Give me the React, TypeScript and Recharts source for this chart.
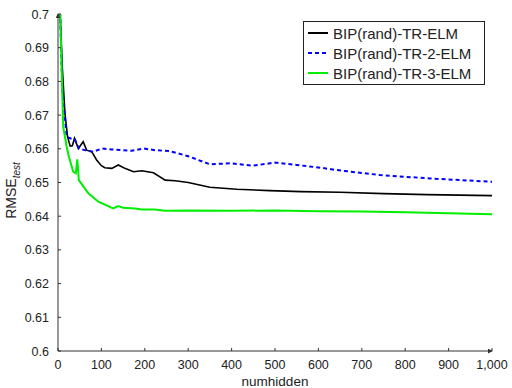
import React from 'react';
import { LineChart, Line, XAxis, YAxis } from 'recharts';

const blackX = [1, 5, 10, 16, 22, 28, 33, 38, 47, 58, 66, 78, 89, 100, 108, 124, 139, 154, 174, 193, 220, 247, 270, 300, 350, 412, 488, 560, 650, 750, 850, 1000];
const blackY = [0.74, 0.7, 0.684, 0.6705, 0.6636, 0.6608, 0.6609, 0.6631, 0.6601, 0.6621, 0.6596, 0.6591, 0.6567, 0.655, 0.6544, 0.6542, 0.6552, 0.6542, 0.6532, 0.6535, 0.6529, 0.6507, 0.6505, 0.65, 0.6486, 0.648, 0.6476, 0.6473, 0.6471, 0.6467, 0.6464, 0.6461];

const blueX = [1, 5, 10, 20, 28, 39, 48, 62, 81, 101, 124, 147, 170, 197, 223, 258, 300, 350, 396, 450, 500, 550, 604, 642, 742, 857, 1000];
const blueY = [0.74, 0.7, 0.6774, 0.6636, 0.6631, 0.6628, 0.6601, 0.6596, 0.6591, 0.6601, 0.6598, 0.6596, 0.6594, 0.6601, 0.6596, 0.6593, 0.6578, 0.6554, 0.6557, 0.655, 0.6559, 0.6552, 0.6544, 0.6537, 0.6522, 0.6512, 0.6502];

const greenX = [1, 5, 12, 20, 25, 35, 41, 44.5, 48, 70, 93, 127, 139, 150, 177, 193, 223, 247, 300, 400, 500, 600, 700, 800, 900, 1000];
const greenY = [0.74, 0.7, 0.6666, 0.6606, 0.6577, 0.6532, 0.6527, 0.6569, 0.6507, 0.6468, 0.6443, 0.6423, 0.643, 0.6425, 0.6423, 0.642, 0.642, 0.6416, 0.6417, 0.6416, 0.6417, 0.6415, 0.6414, 0.6412, 0.6409, 0.6406];

const xTicks = [0, 100, 200, 300, 400, 500, 600, 700, 800, 900, 1000];
const yTicks = [0.6, 0.61, 0.62, 0.63, 0.64, 0.65, 0.66, 0.67, 0.68, 0.69, 0.7];

const seriesNames = ['BIP(rand)-TR-ELM', 'BIP(rand)-TR-2-ELM', 'BIP(rand)-TR-3-ELM'];

const toData = (xs: number[], ys: number[]) => xs.map((x, i) => ({ x, y: ys[i] }));
const blackData = toData(blackX, blackY);
const blueData = toData(blueX, blueY);
const greenData = toData(greenX, greenY);

const FONT = "'Liberation Sans', Arial, sans-serif";
const AXIS = '#333';

const fmtX = (v: number) => v.toLocaleString('en-US');
const fmtY = (v: number) => String(Number(v.toFixed(2)));

const XTick = (props: any) => {
  const { x, y, payload } = props;
  return (
    <g>
      <line x1={x} y1={y} x2={x} y2={y - 3} stroke={AXIS} strokeWidth={1} />
      <text x={x} y={y + 18} textAnchor="middle" fontFamily={FONT} fontSize={12.5} fill="#222">
        {fmtX(payload.value)}
      </text>
    </g>
  );
};

const YTick = (props: any) => {
  const { x, y, payload } = props;
  return (
    <g>
      <line x1={x} y1={y} x2={x + 3} y2={y} stroke={AXIS} strokeWidth={1} />
      <text x={x - 9} y={y + 4.5} textAnchor="end" fontFamily={FONT} fontSize={12.5} fill="#222">
        {fmtY(payload.value)}
      </text>
    </g>
  );
};

const YLabel = (props: any) => {
  const vb = props.viewBox || { y: 14, height: 337 };
  const cx = 16;
  const cy = vb.y + vb.height / 2 + 8;
  return (
    <text x={cx} y={cy} transform={`rotate(-90 ${cx} ${cy})`} textAnchor="middle" fontFamily={FONT} fontSize={14} fill="#222">
      <tspan>RMSE</tspan>
      <tspan dy={3.5} fontSize={10} fontStyle="italic">test</tspan>
    </text>
  );
};

const XLabel = (props: any) => {
  const vb = props.viewBox || { x: 58, width: 434 };
  return (
    <text x={vb.x + vb.width / 2} y={386} textAnchor="middle" fontFamily={FONT} fontSize={13.5} fill="#222">
      numhidden
    </text>
  );
};

const legendItems = [
  { name: seriesNames[0], color: '#000000', dash: undefined as string | undefined },
  { name: seriesNames[1], color: '#0000ff', dash: '4 3' },
  { name: seriesNames[2], color: '#00ee00', dash: undefined as string | undefined },
];

const LegendBox = () => (
  <div
    style={{
      position: 'absolute',
      left: 303,
      top: 21,
      border: '1px solid #222',
      background: '#fff',
      padding: '1px 4px',
      width: 172,
      boxSizing: 'content-box',
      fontFamily: FONT,
      fontSize: 15,
      color: '#222',
    }}
  >
    {legendItems.map((it) => (
      <div key={it.name} style={{ display: 'flex', alignItems: 'center', height: 20 }}>
        <svg width={20} height={6} style={{ marginRight: 5 }}>
          <line x1={0} y1={3} x2={20} y2={3} stroke={it.color} strokeWidth={2} strokeDasharray={it.dash} />
        </svg>
        <span style={{ whiteSpace: 'nowrap' }}>{it.name}</span>
      </div>
    ))}
  </div>
);

export default function App() {
  return (
    <div style={{ position: 'absolute', left: 0, top: 0, width: 512, height: 388, background: '#fff' }}>
      <LineChart width={512} height={388} margin={{ top: 14, right: 20, bottom: 7, left: 0 }}>
        <defs>
          <marker id="arrowHead" viewBox="0 0 6 6" refX="5" refY="3" markerWidth="5" markerHeight="5" orient="auto-start-reverse">
            <path d="M0,0 L6,3 L0,6 z" fill={AXIS} />
          </marker>
        </defs>
        <XAxis
          dataKey="x"
          type="number"
          domain={[0, 1000]}
          ticks={xTicks}
          allowDataOverflow
          height={30}
          tickSize={0}
          tickMargin={0}
          tickLine={false}
          axisLine={{ stroke: AXIS, strokeWidth: 1, markerEnd: 'url(#arrowHead)' }}
          tick={<XTick />}
          interval={0}
          label={<XLabel />}
        />
        <YAxis
          type="number"
          domain={[0.6, 0.7]}
          ticks={yTicks}
          allowDataOverflow
          width={58}
          tickSize={0}
          tickMargin={0}
          tickLine={false}
          axisLine={{ stroke: AXIS, strokeWidth: 1, markerStart: 'url(#arrowHead)' }}
          tick={<YTick />}
          interval={0}
          label={<YLabel />}
        />
        <Line data={blackData} dataKey="y" name={seriesNames[0]} stroke="#000000" strokeWidth={1.6} dot={false} isAnimationActive={false} />
        <Line data={blueData} dataKey="y" name={seriesNames[1]} stroke="#0000ff" strokeWidth={2} strokeDasharray="4 3" dot={false} isAnimationActive={false} />
        <Line data={greenData} dataKey="y" name={seriesNames[2]} stroke="#00ee00" strokeWidth={2} dot={false} isAnimationActive={false} />
      </LineChart>
      <LegendBox />
    </div>
  );
}
